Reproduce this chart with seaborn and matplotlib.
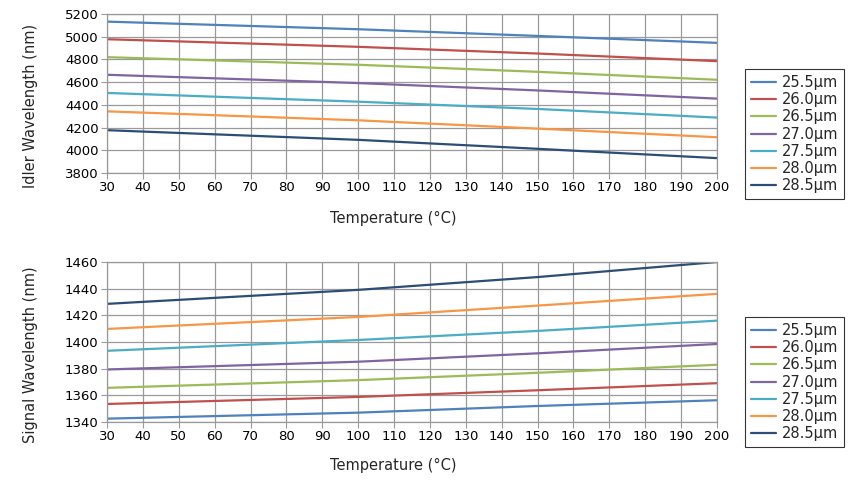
import matplotlib
matplotlib.use("Agg")
import matplotlib.pyplot as plt
import seaborn as sns
import pandas as pd

temps = [30, 100, 150, 200]
periods = ["25.5µm", "26.0µm", "26.5µm", "27.0µm", "27.5µm", "28.0µm", "28.5µm"]

idler_255 = [5133, 5066, 5007, 4946]
idler_260 = [4978, 4911, 4852, 4785]
idler_265 = [4820, 4753, 4691, 4621]
idler_270 = [4665, 4592, 4527, 4455]
idler_275 = [4505, 4428, 4364, 4288]
idler_280 = [4343, 4264, 4191, 4115]
idler_285 = [4177, 4092, 4013, 3931]

signal_255 = [1342.5, 1347.0, 1352.0, 1356.3]
signal_260 = [1353.5, 1358.8, 1363.8, 1369.1]
signal_265 = [1365.6, 1371.4, 1376.9, 1382.9]
signal_270 = [1379.4, 1385.2, 1391.5, 1398.5]
signal_275 = [1393.4, 1401.5, 1408.3, 1416.0]
signal_280 = [1409.8, 1418.8, 1427.3, 1436.1]
signal_285 = [1428.6, 1439.1, 1448.7, 1460.0]

idler = [idler_255, idler_260, idler_265, idler_270, idler_275, idler_280, idler_285]
signal = [signal_255, signal_260, signal_265, signal_270, signal_275, signal_280, signal_285]

colors = ["#4F81BD", "#C0504D", "#9BBB59", "#8064A2", "#4BACC6", "#F79646", "#2C4D75"]


def long_df(series):
    rows = []
    for p, vals in zip(periods, series):
        for t, v in zip(temps, vals):
            rows.append({"Temperature": t, "Value": v, "Period": p})
    return pd.DataFrame(rows)


sns.set_theme(style="white")
plt.rcParams["font.family"] = ["DejaVu Sans"]

fig = plt.figure(figsize=(8.52, 4.95), dpi=100)
ax1 = fig.add_axes([0.1256, 0.6505, 0.7159, 0.3212])
ax2 = fig.add_axes([0.1256, 0.1475, 0.7159, 0.3232])

fs = 9.5
lfs = 10.5
grid_c = "#9a9a9a"

configs = [
    (ax1, idler, "Idler Wavelength (nm)", 3800, 5200, 200, 0.729, -0.283),
    (ax2, signal, "Signal Wavelength (nm)", 1340, 1460, 20, 0.228, -0.275),
]

for ax, series, ylabel, ylo, yhi, ystep, leg_y, xlab_y in configs:
    df = long_df(series)
    sns.lineplot(data=df, x="Temperature", y="Value", hue="Period",
                 hue_order=periods, palette=colors, linewidth=1.6, ax=ax,
                 legend=True)
    ax.set_xlim(30, 200)
    ax.set_ylim(ylo, yhi)
    ax.set_xticks(range(30, 201, 10))
    ax.set_yticks(range(ylo, yhi + 1, ystep))
    ax.grid(True, color=grid_c, linewidth=0.9)
    ax.set_axisbelow(True)
    for s in ax.spines.values():
        s.set_color(grid_c)
        s.set_linewidth(0.9)
    ax.tick_params(axis="both", which="both", labelsize=fs, colors="black",
                   length=4, width=0.8, color=grid_c, direction="out",
                   left=True, bottom=True, pad=2)
    ax.set_xlabel("Temperature (°C)", fontsize=lfs)
    ax.set_ylabel(ylabel, fontsize=lfs)
    ax.xaxis.label.set_verticalalignment("center")
    ax.yaxis.label.set_verticalalignment("center")
    ax.xaxis.set_label_coords(0.469, xlab_y)
    ax.yaxis.set_label_coords(-0.126, 0.42)
    handles, labels = ax.get_legend_handles_labels()
    leg = ax.legend(handles, labels, loc="center left",
                    bbox_to_anchor=(0.8744, leg_y), bbox_transform=fig.transFigure,
                    borderaxespad=0, frameon=True, fancybox=False, fontsize=10.5,
                    handlelength=1.7, handletextpad=0.4, labelspacing=0.15,
                    borderpad=0.4, title=None)
    leg.get_frame().set_edgecolor("black")
    leg.get_frame().set_linewidth(0.8)

fig.savefig("out.png", dpi=100)
